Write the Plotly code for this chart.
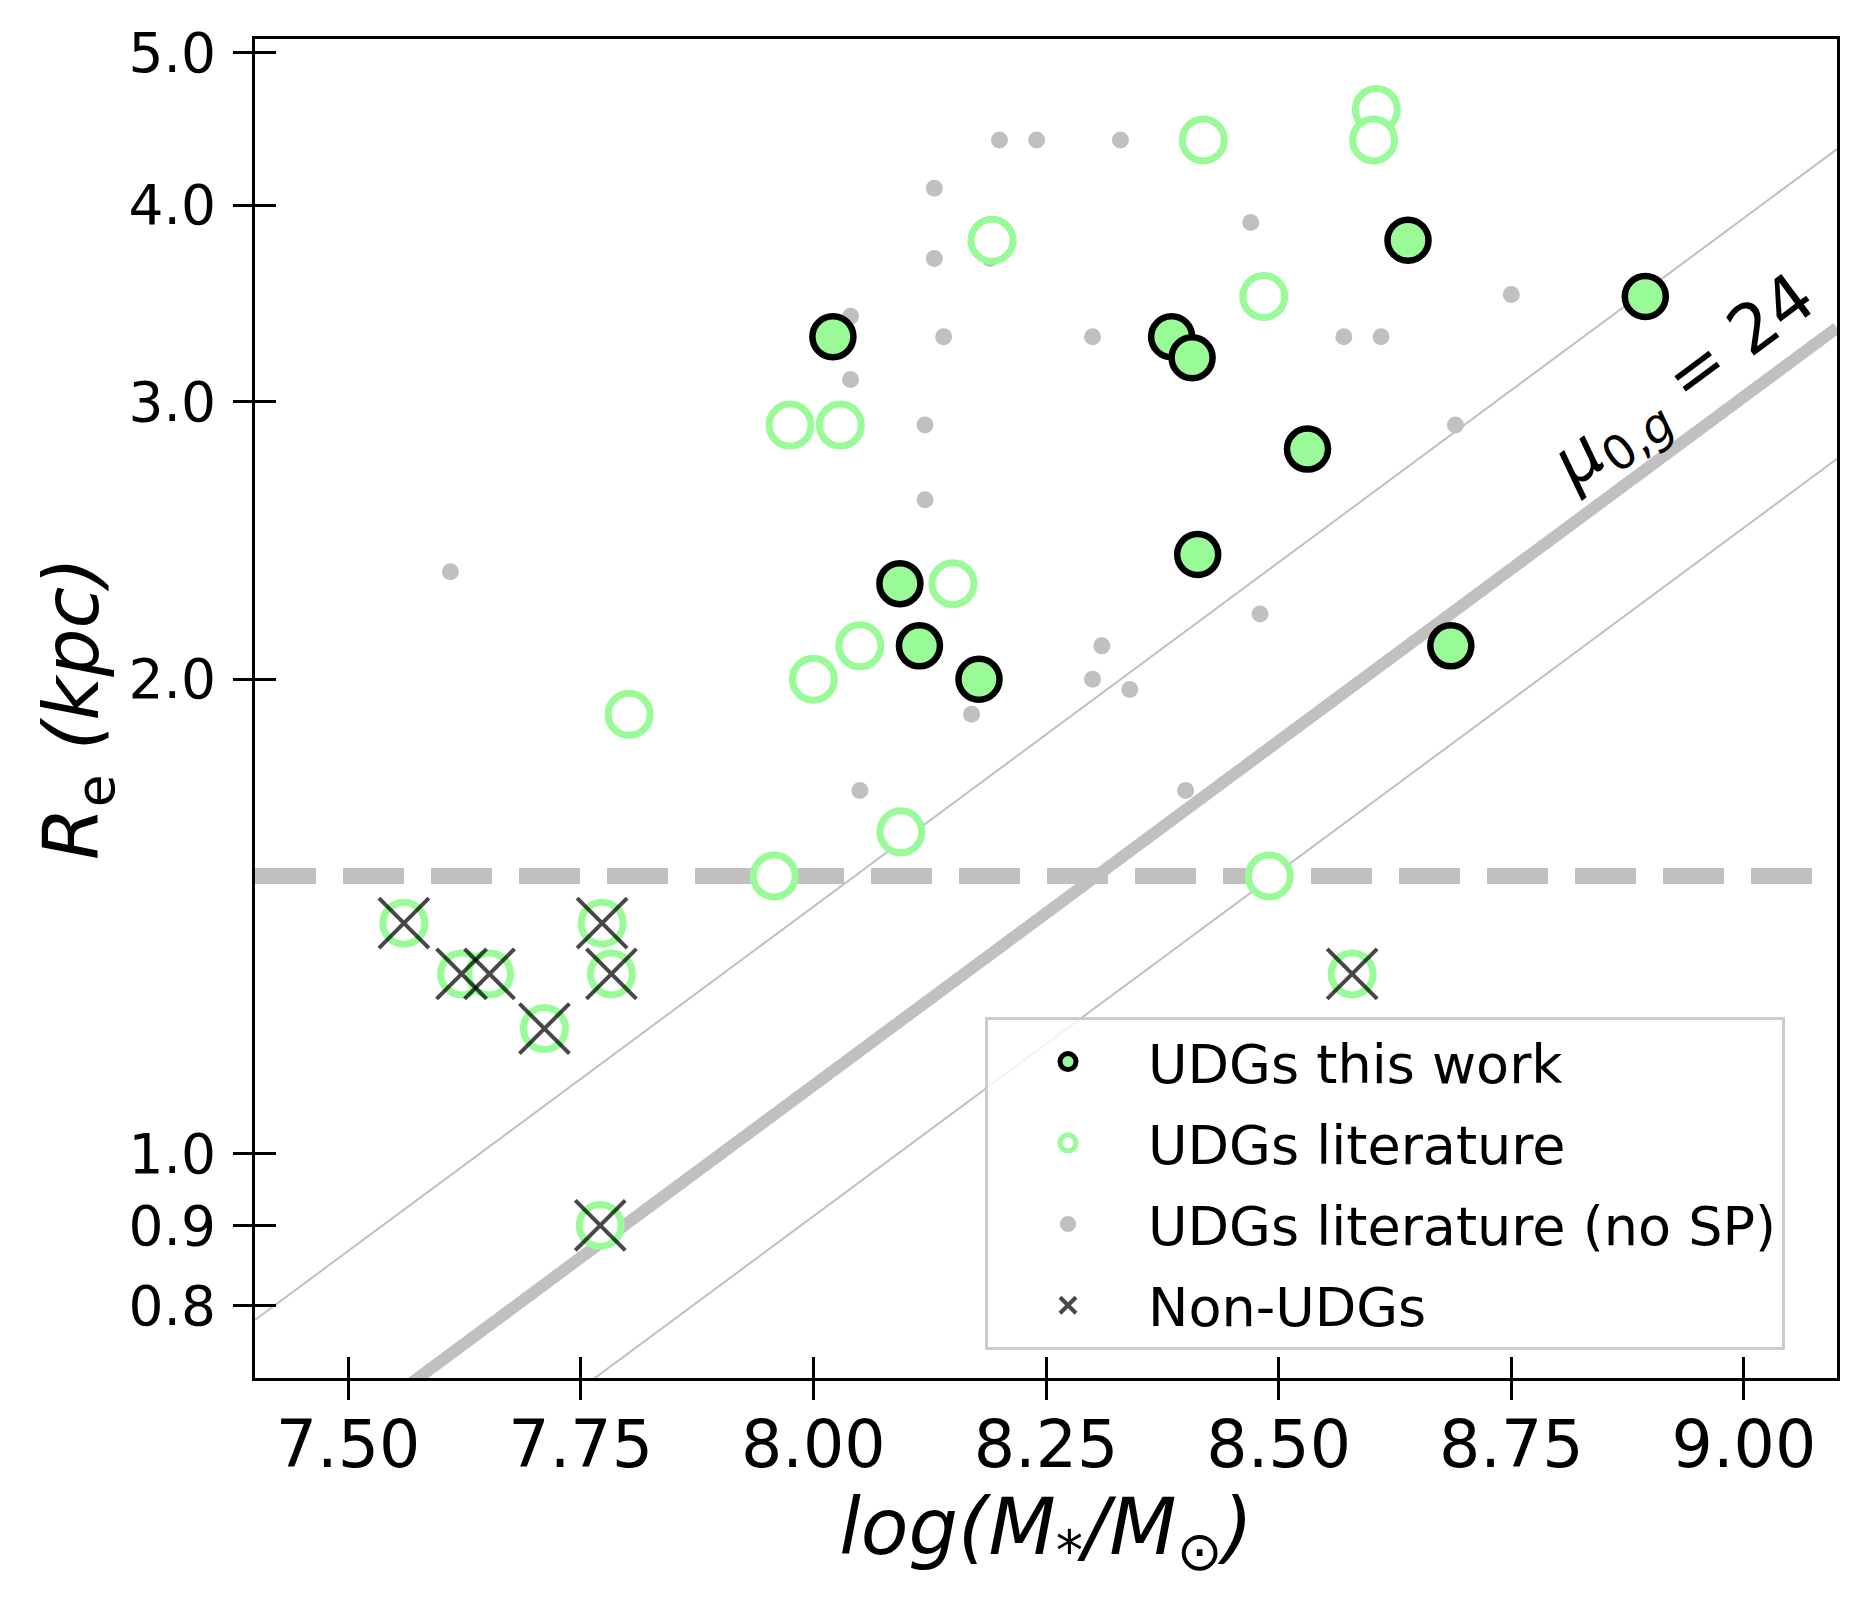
import numpy as np
import plotly.graph_objects as go

# UDGs this work
work_logm = [8.021, 8.385, 8.407, 8.639, 8.531, 8.413, 8.093, 8.114, 8.178, 8.685, 8.894]
work_re = [3.30, 3.30, 3.20, 3.80, 2.80, 2.40, 2.30, 2.10, 2.00, 2.10, 3.50]

# UDGs from the literature (with stellar populations)
lit_logm = [8.419, 8.605, 8.602, 8.192, 8.484, 7.975, 8.029, 8.150, 8.050, 8.000,
            7.802, 7.958, 8.094, 8.490]
lit_re = [4.40, 4.60, 4.40, 3.80, 3.50, 2.90, 2.90, 2.30, 2.10, 2.00,
          1.90, 1.50, 1.60, 1.50]

# UDGs from the literature, no SP
nosp_logm = [8.200, 8.240, 8.330, 8.130, 8.130, 8.190, 8.470, 8.750, 8.040, 8.140,
             8.300, 8.570, 8.610, 8.040, 8.120, 8.690, 8.120, 8.480, 8.310, 8.300,
             8.340, 8.170, 8.050, 8.400, 7.610]
nosp_re = [4.40, 4.40, 4.40, 4.10, 3.70, 3.70, 3.90, 3.51, 3.40, 3.30,
           3.30, 3.30, 3.30, 3.10, 2.90, 2.90, 2.60, 2.20, 2.10, 2.00,
           1.97, 1.90, 1.70, 1.70, 2.34]

# Non-UDGs (Re < 1.5 kpc)
non_logm = [7.560, 7.773, 7.622, 7.652, 7.783, 7.711, 7.771, 8.579]
non_re = [1.40, 1.40, 1.30, 1.30, 1.30, 1.20, 0.90, 1.30]

# constant surface brightness lines: log Re = b + slope * (logM - 8)
mu_slope = 0.4373
mu_b = [0.1566, 0.0431, -0.0400]  # upper thin, mu_0,g = 24, lower thin
re_limit = 1.5

x_range = [7.40, 9.10]
y_range = [np.log10(0.72), np.log10(5.1)]
x_ticks = [7.50, 7.75, 8.00, 8.25, 8.50, 8.75, 9.00]
y_ticks = [0.8, 0.9, 1.0, 2.0, 3.0, 4.0, 5.0]

GREEN = "#98FB98"
SILVER = "#C0C0C0"
FONT = "DejaVu Sans"

line_x = np.array(x_range)

fig = go.Figure()

for b, w in zip(mu_b, [2, 12, 2]):
    fig.add_trace(go.Scatter(
        x=line_x, y=10 ** (b + mu_slope * (line_x - 8)), mode="lines",
        line=dict(color=SILVER, width=w), showlegend=False, hoverinfo="skip",
    ))

fig.add_trace(go.Scatter(
    x=x_range, y=[re_limit, re_limit], mode="lines",
    line=dict(color=SILVER, width=16, dash="61px,27px"),
    showlegend=False, hoverinfo="skip",
))

fig.add_trace(go.Scatter(
    x=nosp_logm, y=nosp_re, mode="markers", name="UDGs literature (no SP)",
    marker=dict(size=17, color=SILVER), legendrank=3, legendgroup="c",
))

fig.add_trace(go.Scatter(
    x=lit_logm, y=lit_re, mode="markers", name="UDGs literature",
    marker=dict(size=42, color="white", line=dict(color=GREEN, width=7)),
    legendrank=2, legendgroup="b",
))
fig.add_trace(go.Scatter(
    x=non_logm, y=non_re, mode="markers", showlegend=False,
    marker=dict(size=42, color="white", line=dict(color=GREEN, width=7)),
))

fig.add_trace(go.Scatter(
    x=work_logm, y=work_re, mode="markers", name="UDGs this work",
    marker=dict(size=41, color=GREEN, line=dict(color="black", width=6.5)),
    legendrank=1, legendgroup="a",
))

fig.add_trace(go.Scatter(
    x=non_logm, y=non_re, mode="markers", name="Non-UDGs",
    marker=dict(symbol="x-thin", size=50, line=dict(color="rgba(0,0,0,0.72)", width=4)),
    legendrank=4, legendgroup="d",
))

# empty trace so the overlay axes (outer half of the ticks) get drawn
fig.add_trace(go.Scatter(x=[], y=[], xaxis="x2", yaxis="y2", showlegend=False,
                         hoverinfo="skip"))

fig.add_annotation(
    x=8.937, y=np.log10(3.04) + 0.006, text="<i>μ</i><sub>0,<i>g</i></sub> = 24",
    showarrow=False, textangle=-36.5, xanchor="center", yanchor="middle",
    font=dict(size=68, family=FONT, color="black"),
)

tick_common = dict(ticklen=21, tickwidth=3, tickcolor="black", showgrid=False,
                   zeroline=False)

fig.update_layout(
    width=1867, height=1606,
    margin=dict(l=255, r=30, t=39, b=228),
    plot_bgcolor="white", paper_bgcolor="white",
    font=dict(family=FONT, color="black"),
    xaxis=dict(
        range=x_range, tickvals=x_ticks, ticktext=[f"{v:.2f}" for v in x_ticks],
        ticks="inside", showline=True, linewidth=3, linecolor="black", mirror=True,
        tickfont=dict(size=65), ticklabelstandoff=8,
        title=dict(text="<i>log(M<sub>*</sub>/M<sub>⊙</sub>)</i>",
                   font=dict(size=78), standoff=16),
        **tick_common,
    ),
    yaxis=dict(
        type="log", range=y_range, tickvals=y_ticks,
        ticktext=[f"{v:.1f}" for v in y_ticks],
        ticks="inside", showline=True, linewidth=3, linecolor="black", mirror=True,
        tickfont=dict(size=55), ticklabelstandoff=25,
        title=dict(text="<i>R</i><sub>e</sub> <i>(kpc)</i>",
                   font=dict(size=76), standoff=5),
        **tick_common,
    ),
    xaxis2=dict(range=x_range, tickvals=x_ticks, overlaying="x", anchor="y2",
                ticks="outside", showticklabels=False, showline=False, **tick_common),
    yaxis2=dict(type="log", range=y_range, tickvals=y_ticks, overlaying="y",
                anchor="x2", ticks="outside", showticklabels=False, showline=False,
                **tick_common),
    legend=dict(
        x=(985 - 255) / 1582, xanchor="left", y=0.0209, yanchor="bottom",
        bgcolor="rgba(255,255,255,0.8)", bordercolor="#cccccc", borderwidth=3,
        font=dict(size=54, family=FONT), itemwidth=150,
        traceorder="grouped", tracegroupgap=8,
    ),
)

fig.write_html("out.html", config={"displayModeBar": False},
               post_script="document.body.style.margin='0';")
